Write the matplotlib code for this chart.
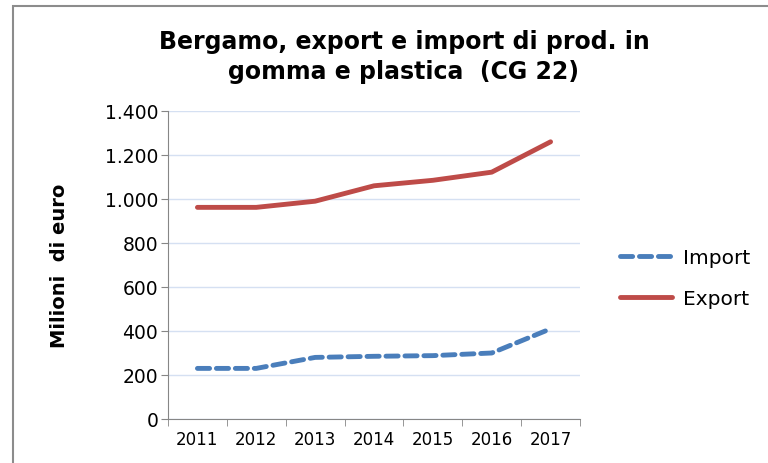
import matplotlib
matplotlib.use('Agg')
import matplotlib.pyplot as plt
from matplotlib.patches import Rectangle
from matplotlib.ticker import FuncFormatter

years = [2011, 2012, 2013, 2014, 2015, 2016, 2017]
export_vals = [962, 962, 990, 1060, 1085, 1122, 1260]
import_vals = [230, 230, 280, 285, 288, 300, 410]

W, H = 768, 464
fig = plt.figure(figsize=(W / 100, H / 100), dpi=100)

# outer chart border (only left/top visible in the crop)
fig.patches.append(Rectangle((13 / W, -0.1), 1.2, 1 - 7 / H + 0.1,
                             transform=fig.transFigure, fill=False,
                             edgecolor='#8c8c8c', linewidth=1.5))

ax = fig.add_axes([168 / W, 1 - 420 / H, (580 - 168) / W, (420 - 112) / H])

ax.plot(years, import_vals, color='#4a7ebb', lw=3.5, ls=(0, (2.5, 1.4)),
        dash_capstyle='round', label='Import')
ax.plot(years, export_vals, color='#be4b48', lw=3.5, solid_capstyle='round',
        label='Export')

ax.set_xlim(2010.5, 2017.5)
ax.set_ylim(0, 1400)
ax.set_yticks(range(0, 1401, 200))
ax.yaxis.set_major_formatter(FuncFormatter(lambda v, p: f'{int(v):,}'.replace(',', '.')))
ax.set_xticks(years)
ax.set_xticks([y + 0.5 for y in [2010] + years], minor=True)
ax.tick_params(axis='x', which='major', length=0, labelsize=12, pad=8)
ax.tick_params(axis='x', which='minor', length=5, color='#868686')
ax.tick_params(axis='y', length=5, color='#868686', labelsize=13.5, pad=2)

ax.grid(axis='y', color='#d5e0f2', lw=1)
ax.set_axisbelow(True)
for s in ['top', 'right']:
    ax.spines[s].set_visible(False)
ax.spines['left'].set_color('#868686')
ax.spines['bottom'].set_color('#868686')

ax.set_ylabel('Milioni  di euro', fontsize=14, fontweight='bold', labelpad=26)
fig.text(404 / W, 1 - 57 / H, 'Bergamo, export e import di prod. in\ngomma e plastica  (CG 22)',
         ha='center', va='center', fontsize=17, fontweight='bold', linespacing=1.3)

fig.legend(loc='center left', bbox_to_anchor=(602 / W, 1 - 279 / H), frameon=False,
           fontsize=14.5, handlelength=2.6, labelspacing=1.1, handletextpad=0.5)

fig.savefig('out.png', dpi=100)
